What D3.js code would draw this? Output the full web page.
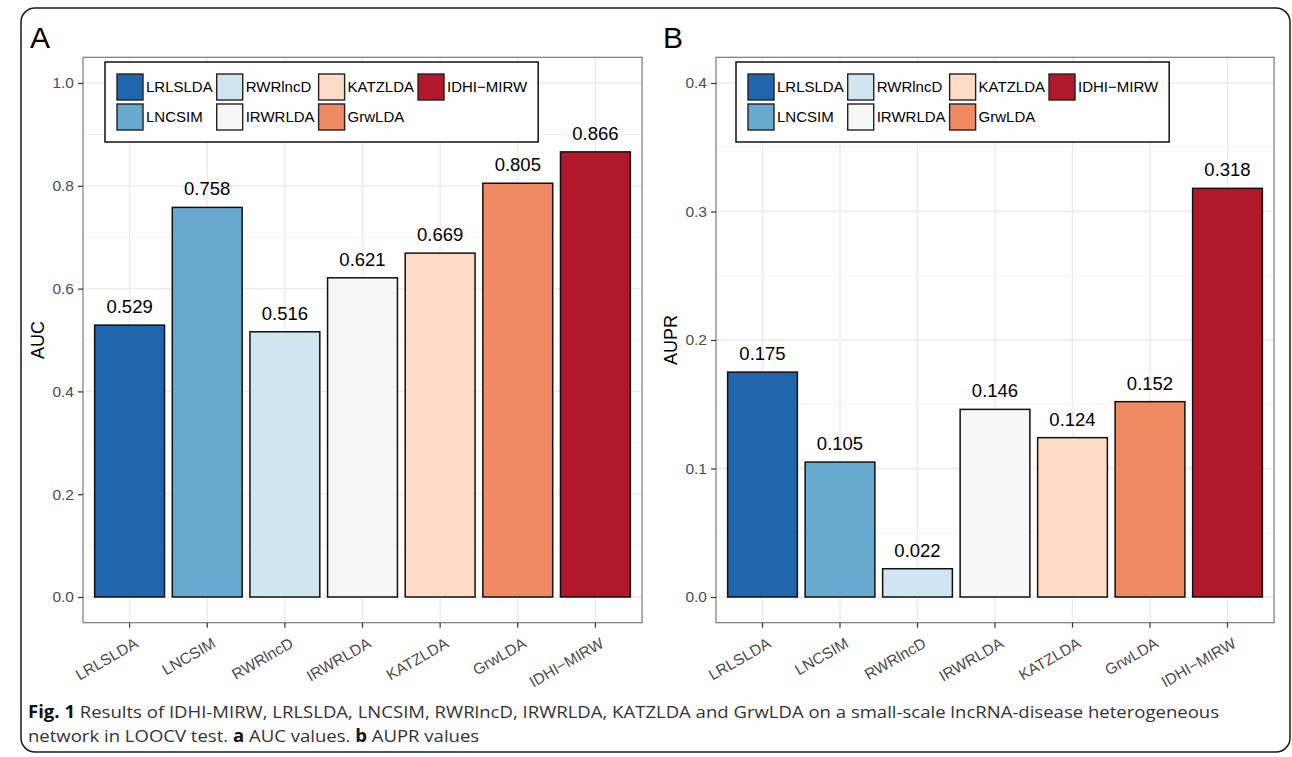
<!DOCTYPE html>
<html>
<head>
<meta charset="utf-8">
<script src="https://cdnjs.cloudflare.com/ajax/libs/d3/7.8.5/d3.min.js"></script>
<style>
  body { margin: 0; background: #fff; }
  svg { display: block; }
</style>
</head>
<body>
<svg id="chart" width="1292" height="757"></svg>
<script>
// ---------------- data ----------------
const methods = ["LRLSLDA", "LNCSIM", "RWRlncD", "IRWRLDA", "KATZLDA", "GrwLDA", "IDHI-MIRW"];
const methodLabels = ["LRLSLDA", "LNCSIM", "RWRlncD", "IRWRLDA", "KATZLDA", "GrwLDA", "IDHI\u2212MIRW"];
const aucValues = [0.529, 0.758, 0.516, 0.621, 0.669, 0.805, 0.866];
const auprValues = [0.175, 0.105, 0.022, 0.146, 0.124, 0.152, 0.318];
const colors = ["#2166AC", "#67A9CF", "#D1E5F0", "#F7F7F7", "#FDDBC7", "#EF8A62", "#B2182B"];
const aucTicks = [0.0, 0.2, 0.4, 0.6, 0.8, 1.0];
const auprTicks = [0.0, 0.1, 0.2, 0.3, 0.4];
const legendOrder = [0, 2, 4, 6, 1, 3, 5];
const captionBold1 = "Fig. 1";
const captionText1 = " Results of IDHI-MIRW, LRLSLDA, LNCSIM, RWRlncD, IRWRLDA, KATZLDA and GrwLDA on a small-scale lncRNA-disease heterogeneous";
const captionText2a = "network in LOOCV test. ";
const captionText2b = " AUC values. ";
const captionText2c = " AUPR values";

const svg = d3.select("#chart");
const FONT = "Liberation Sans, Arial, Helvetica, sans-serif";

// outer rounded frame
svg.append("rect")
  .attr("x", 21).attr("y", 8).attr("width", 1269).attr("height", 744)
  .attr("rx", 14).attr("ry", 14)
  .attr("fill", "none").attr("stroke", "#1a1a1a").attr("stroke-width", 1.5);

function panel(cfg) {
  const g = svg.append("g");
  const L = cfg.left, R = cfg.right, T = 57.3, B = 622.7;
  const x = d3.scaleBand().domain(methods).range([L, R]).paddingInner(0.1).paddingOuter(0.15);
  const y = d3.scaleLinear().domain(cfg.domain).range([B, T]);

  const step = cfg.ticks[1] - cfg.ticks[0];
  const minor = cfg.ticks.map(t => t + step / 2).filter(v => v > cfg.domain[0] && v < cfg.domain[1]);
  g.selectAll(".minor").data(minor).enter().append("line")
    .attr("x1", L).attr("x2", R).attr("y1", d => y(d)).attr("y2", d => y(d))
    .attr("stroke", "#F0F0F0").attr("stroke-width", 0.8);
  g.selectAll(".major").data(cfg.ticks).enter().append("line")
    .attr("x1", L).attr("x2", R).attr("y1", d => y(d)).attr("y2", d => y(d))
    .attr("stroke", "#EBEBEB").attr("stroke-width", 1.3);
  g.selectAll(".vgrid").data(methods).enter().append("line")
    .attr("x1", d => x(d) + x.bandwidth() / 2).attr("x2", d => x(d) + x.bandwidth() / 2)
    .attr("y1", T).attr("y2", B)
    .attr("stroke", "#EBEBEB").attr("stroke-width", 1.3);

  g.selectAll(".bar").data(cfg.values).enter().append("rect")
    .attr("x", (d, i) => x(methods[i]))
    .attr("y", d => y(d))
    .attr("width", x.bandwidth())
    .attr("height", d => y(0) - y(d))
    .attr("fill", (d, i) => colors[i])
    .attr("stroke", "#111").attr("stroke-width", 1.5);

  g.selectAll(".val").data(cfg.values).enter().append("text")
    .attr("x", (d, i) => x(methods[i]) + x.bandwidth() / 2)
    .attr("y", d => y(d) - 12)
    .attr("text-anchor", "middle")
    .attr("font-family", FONT).attr("font-size", 18.5).attr("fill", "#000")
    .text(d => d.toFixed(3));

  g.append("rect").attr("x", L).attr("y", T).attr("width", R - L).attr("height", B - T)
    .attr("fill", "none").attr("stroke", "#7a7a7a").attr("stroke-width", 1.2);

  const yAxis = g.append("g").attr("transform", `translate(${L},0)`)
    .call(d3.axisLeft(y).tickValues(cfg.ticks).tickFormat(d3.format(".1f")).tickSize(5).tickPadding(4));
  yAxis.select(".domain").remove();
  yAxis.selectAll("line").attr("stroke", "#333").attr("stroke-width", 1.2);
  yAxis.selectAll("text").attr("font-family", FONT).attr("font-size", 15.5).attr("fill", "#4D4D4D");

  const xAxis = g.append("g").attr("transform", `translate(0,${B})`)
    .call(d3.axisBottom(x).tickSize(5).tickFormat((d, i) => methodLabels[i]));
  xAxis.select(".domain").remove();
  xAxis.selectAll("line").attr("stroke", "#333").attr("stroke-width", 1.2);
  xAxis.selectAll("text")
    .attr("font-family", FONT).attr("font-size", 15.5).attr("fill", "#4D4D4D")
    .attr("text-anchor", "end")
    .attr("y", 0).attr("dy", "0.72em")
    .attr("transform", "translate(4,14) rotate(-30)");

  g.append("text")
    .attr("transform", `translate(${cfg.titleX},${(T + B) / 2}) rotate(-90)`)
    .attr("text-anchor", "middle")
    .attr("font-family", FONT).attr("font-size", 18).attr("fill", "#000")
    .text(cfg.title);

  g.append("text").attr("x", cfg.tagX).attr("y", 48)
    .attr("font-family", FONT).attr("font-size", 30).attr("fill", "#000")
    .text(cfg.tag);

  // legend
  const lg = g.append("g");
  const keyW = 28, keyH = 28, pad = 11;
  const lx = cfg.legendX, ly = 62;
  const tmp = lg.append("text").attr("font-family", FONT).attr("font-size", 15);
  const widths = methodLabels.map(t => { tmp.text(t); return tmp.node().getComputedTextLength(); });
  tmp.remove();
  const nCol = 4;
  const colX = [];
  let cx = lx + pad;
  for (let c = 0; c < nCol; c++) {
    colX.push(cx);
    const items = [legendOrder[c], legendOrder[c + nCol]].filter(v => v !== undefined);
    const w = d3.max(items, i => widths[i]);
    cx += keyW + 2 + w + 3;
  }
  const boxW = cx - lx + pad - 3;
  lg.append("rect").attr("x", lx).attr("y", ly).attr("width", boxW).attr("height", pad * 2 + keyH * 2 + 2)
    .attr("fill", "#fff").attr("stroke", "#111").attr("stroke-width", 1.5);
  methods.forEach((m, i) => {
    const col = Math.floor(i / 2), row = i % 2;
    const kx = colX[col], ky = ly + pad + row * (keyH + 2);
    lg.append("rect").attr("x", kx + 1).attr("y", ky + 1).attr("width", keyW - 2).attr("height", keyH - 2)
      .attr("fill", colors[i]).attr("stroke", "#222").attr("stroke-width", 1.4);
    lg.append("text").attr("x", kx + keyW + 2).attr("y", ky + keyH / 2)
      .attr("dy", "0.36em")
      .attr("font-family", FONT).attr("font-size", 15).attr("fill", "#000")
      .text(methodLabels[i]);
  });
}

panel({ left: 83, right: 642, domain: [-0.05, 1.05], ticks: aucTicks, values: aucValues,
        title: "AUC", titleX: 44, tag: "A", tagX: 30, legendX: 105 });
panel({ left: 716, right: 1274, domain: [-0.02, 0.42], ticks: auprTicks, values: auprValues,
        title: "AUPR", titleX: 677, tag: "B", tagX: 663, legendX: 736 });

// caption
const CAP = "Open Sans, Noto Sans, sans-serif";
const c1 = svg.append("text").attr("x", 28).attr("y", 718)
  .attr("font-family", CAP).attr("font-size", 17).attr("fill", "#333");
c1.append("tspan").attr("font-weight", "bold").attr("fill", "#111").text(captionBold1);
c1.append("tspan").text(captionText1);
const c2 = svg.append("text").attr("x", 28).attr("y", 742)
  .attr("font-family", CAP).attr("font-size", 17).attr("fill", "#333");
c2.append("tspan").text(captionText2a);
c2.append("tspan").attr("font-weight", "bold").attr("fill", "#111").text("a");
c2.append("tspan").text(captionText2b);
c2.append("tspan").attr("font-weight", "bold").attr("fill", "#111").text("b");
c2.append("tspan").text(captionText2c);
const n1 = c1.node().getComputedTextLength();
const n2 = c2.node().getComputedTextLength();
const ratio = 1191 / n1;
c1.attr("textLength", 1191).attr("lengthAdjust", "spacingAndGlyphs");
c2.attr("textLength", n2 * ratio).attr("lengthAdjust", "spacingAndGlyphs");
</script>
</body>
</html>
